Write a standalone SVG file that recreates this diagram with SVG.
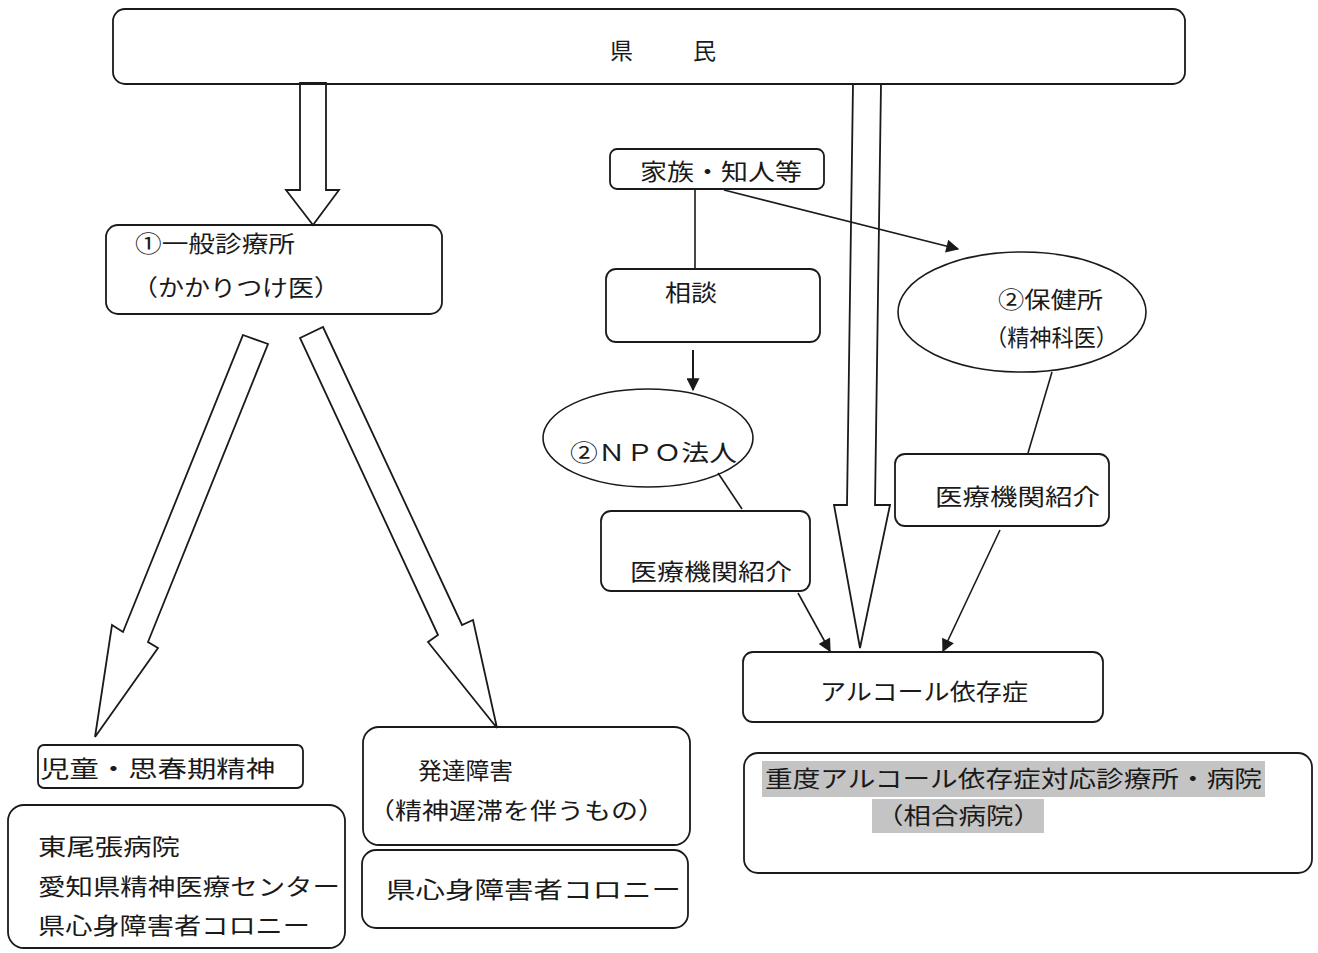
<svg xmlns="http://www.w3.org/2000/svg" width="1318" height="953" viewBox="0 0 1318 953">
<defs>
<style>
.box{fill:none;stroke:#1a1a1a;stroke-width:1.8}
.ell{fill:none;stroke:#1a1a1a;stroke-width:1.6}
.big{fill:#fff;stroke:#1a1a1a;stroke-width:1.8;stroke-linejoin:miter}
.ln{fill:none;stroke:#1a1a1a;stroke-width:1.6}
text{font-family:"Noto Sans CJK JP","Noto Sans",sans-serif;font-size:23px;fill:#1a1a1a}
.hl{fill:#c4c4c4}
</style>
<marker id="ah" viewBox="0 0 10 10" refX="9" refY="5" markerWidth="15" markerHeight="13" orient="auto" markerUnits="userSpaceOnUse">
<path d="M0,0 L10,5 L0,10 Z" fill="#1a1a1a"/>
</marker>
</defs>
<rect width="1318" height="953" fill="#fff"/>

<g id="connectors">
<polygon class="big" points="300,83 326,83 326,190 339,190 313,225 286,190 300,190"/>
<polygon class="big" points="853,84 881,84 875,505 890,505 860,648 834,505 847,505"/>
<polygon class="big" points="243,335 268,344 148,642 158,648 95,737 112,625 123,632"/>
<polygon class="big" points="300,338 323,327 462,625 473,620 497,728 428,642 438,635"/>
<line class="ln" x1="695" y1="189" x2="695" y2="269"/>
<line class="ln" x1="693" y1="350" x2="693" y2="390" marker-end="url(#ah)" style="stroke-width:2"/>
<line class="ln" x1="724" y1="190" x2="958" y2="249" marker-end="url(#ah)"/>
<line class="ln" x1="718" y1="473" x2="742" y2="509"/>
<line class="ln" x1="798" y1="593" x2="830" y2="651" marker-end="url(#ah)"/>
<line class="ln" x1="1052" y1="372" x2="1028" y2="453"/>
<line class="ln" x1="1000" y1="530" x2="943" y2="651" marker-end="url(#ah)"/>
</g>

<g id="kenmin">
<rect class="box" x="113" y="9" width="1072" height="75" rx="12"/>
<text x="610" y="59">県</text>
<text x="693" y="59">民</text>
</g>

<g id="ippan">
<rect class="box" x="106" y="225" width="336" height="89" rx="12"/>
<text x="135" y="252" textLength="160" lengthAdjust="spacingAndGlyphs">①一般診療所</text>
<text x="132" y="296" textLength="208" lengthAdjust="spacingAndGlyphs">（かかりつけ医）</text>
</g>

<g id="kazoku">
<rect class="box" x="610" y="149" width="214" height="40" rx="7"/>
<text x="640" y="180" textLength="162" lengthAdjust="spacingAndGlyphs">家族・知人等</text>
</g>

<g id="soudan">
<rect class="box" x="606" y="269" width="214" height="73" rx="10"/>
<text x="665" y="301" textLength="52" lengthAdjust="spacingAndGlyphs">相談</text>
</g>

<g id="npo">
<ellipse class="ell" cx="648" cy="438" rx="105" ry="49"/>
<text x="570" y="461" textLength="167" lengthAdjust="spacingAndGlyphs">②ＮＰＯ法人</text>
</g>

<g id="hokenjo">
<ellipse class="ell" cx="1022" cy="312" rx="124" ry="60"/>
<text x="998" y="308" textLength="105" lengthAdjust="spacingAndGlyphs">②保健所</text>
<text x="985" y="346" textLength="133" lengthAdjust="spacingAndGlyphs">（精神科医）</text>
</g>

<g id="shokai-left">
<rect class="box" x="601" y="511" width="209" height="80" rx="10"/>
<text x="630" y="580" textLength="162" lengthAdjust="spacingAndGlyphs">医療機関紹介</text>
</g>

<g id="shokai-right">
<rect class="box" x="895" y="454" width="214" height="72" rx="10"/>
<text x="935" y="505" textLength="165" lengthAdjust="spacingAndGlyphs">医療機関紹介</text>
</g>

<g id="alcohol">
<rect class="box" x="743" y="652" width="360" height="70" rx="10"/>
<text x="820" y="700" textLength="208" lengthAdjust="spacingAndGlyphs">アルコール依存症</text>
</g>

<g id="judo">
<rect class="box" x="744" y="753" width="568" height="120" rx="14"/>
<rect class="hl" x="762" y="761" width="503" height="36"/>
<rect class="hl" x="872" y="799" width="172" height="34"/>
<text x="765" y="787" textLength="497" lengthAdjust="spacingAndGlyphs">重度アルコール依存症対応診療所・病院</text>
<text x="876" y="824" textLength="165" lengthAdjust="spacingAndGlyphs">（相合病院）</text>
</g>

<g id="jido">
<rect class="box" x="38" y="745" width="265" height="43" rx="6"/>
<text x="40" y="777" textLength="235" lengthAdjust="spacingAndGlyphs">児童・思春期精神</text>
</g>

<g id="jido-hospitals">
<rect class="box" x="8" y="805" width="337" height="143" rx="16"/>
<text x="38" y="855" textLength="142" lengthAdjust="spacingAndGlyphs">東尾張病院</text>
<text x="38" y="895" textLength="302" lengthAdjust="spacingAndGlyphs">愛知県精神医療センター</text>
<text x="38" y="934" textLength="272" lengthAdjust="spacingAndGlyphs">県心身障害者コロニー</text>
</g>

<g id="hattatsu">
<rect class="box" x="363" y="727" width="327" height="118" rx="16"/>
<text x="418" y="779" textLength="95" lengthAdjust="spacingAndGlyphs">発達障害</text>
<text x="368" y="819" textLength="297" lengthAdjust="spacingAndGlyphs">（精神遅滞を伴うもの）</text>
</g>

<g id="colony">
<rect class="box" x="362" y="850" width="326" height="78" rx="14"/>
<text x="386" y="898" textLength="295" lengthAdjust="spacingAndGlyphs">県心身障害者コロニー</text>
</g>
</svg>
